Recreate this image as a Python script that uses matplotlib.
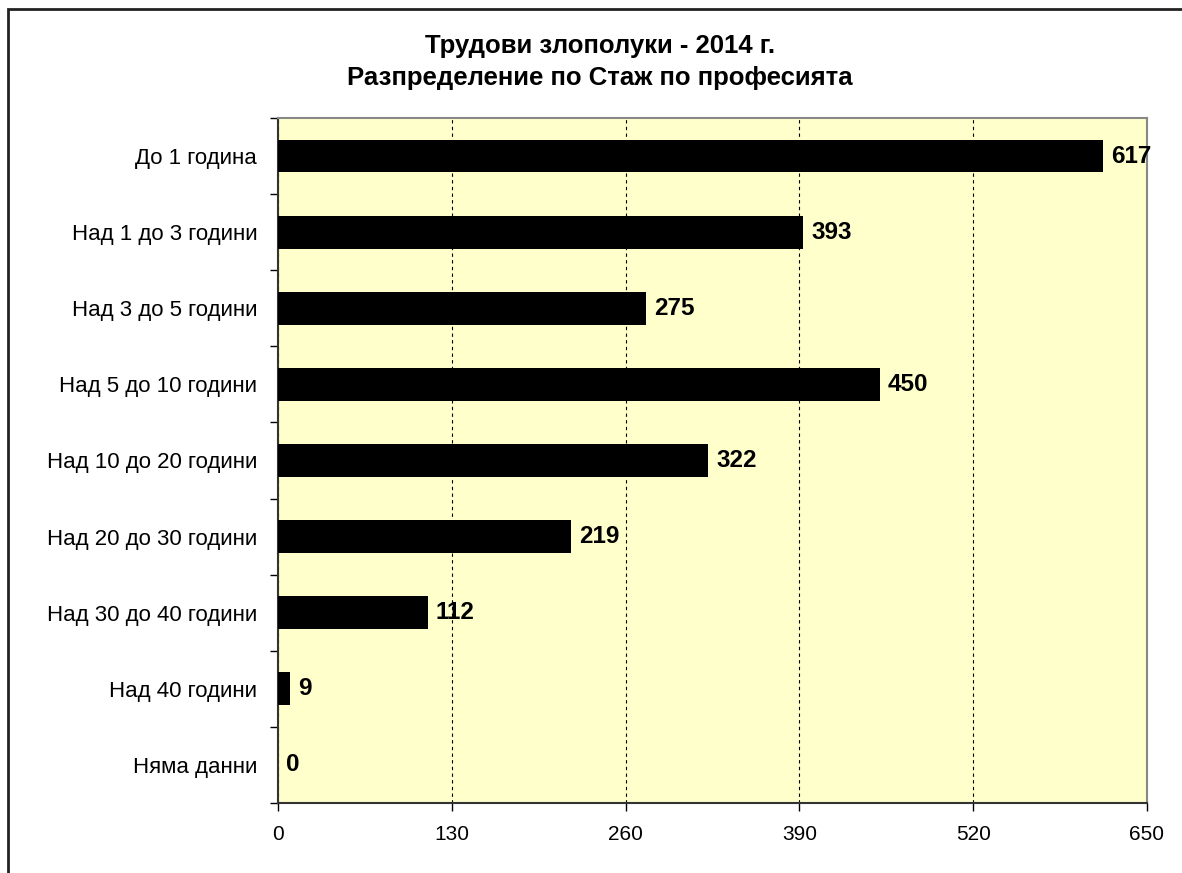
import matplotlib.pyplot as plt
import numpy as np
from matplotlib.patches import Rectangle

plt.rcParams['font.family'] = ['Liberation Sans', 'DejaVu Sans']

categories = ['До 1 година', 'Над 1 до 3 години', 'Над 3 до 5 години',
              'Над 5 до 10 години', 'Над 10 до 20 години', 'Над 20 до 30 години',
              'Над 30 до 40 години', 'Над 40 години', 'Няма данни']
values = [617, 393, 275, 450, 322, 219, 112, 9, 0]
x_ticks = [0, 130, 260, 390, 520, 650]
title = 'Трудови злополуки - 2014 г.\nРазпределение по Стаж по професията'

W, H = 1182, 873
fig = plt.figure(figsize=(W / 100, H / 100), dpi=100)

# outer chart border (runs off the right and bottom edges)
fig.patches.append(Rectangle((8 / W, -0.05), 1.2, 1 - 9 / H + 0.05,
                             transform=fig.transFigure, fill=False,
                             edgecolor='#222222', linewidth=2))

ax = fig.add_axes([278 / W, 1 - 803 / H, (1147 - 278) / W, (803 - 118) / H])
ax.set_facecolor('#FFFFCC')

y = np.arange(len(categories))
ax.barh(y, values, height=0.43, color='black', zorder=3)
for yi, v in zip(y, values):
    ax.text(v + 6, yi, str(v), va='center', ha='left', fontsize=17.5,
            fontweight='bold', zorder=4, clip_on=False)

ax.set_xlim(0, 650)
ax.set_ylim(len(categories) - 0.5, -0.5)
ax.set_xticks(x_ticks)
ax.set_xticklabels([str(t) for t in x_ticks], fontsize=15)
ax.tick_params(axis='x', direction='out', length=6, width=1, pad=10, colors='black')

ax.set_yticks(y)
ax.set_yticklabels(categories, fontsize=16)
ax.tick_params(axis='y', which='major', length=0, pad=15)
ax.set_yticks(np.arange(-0.5, len(categories)), minor=True)
ax.tick_params(axis='y', which='minor', direction='out', length=6, width=1)

ax.xaxis.grid(True, linestyle=(0, (3, 3)), color='black', linewidth=0.8, zorder=1)
ax.set_axisbelow(True)

for side in ['left', 'bottom']:
    ax.spines[side].set_color('#333333')
    ax.spines[side].set_linewidth(1.5)
for side in ['right', 'top']:
    ax.spines[side].set_color('#888888')
    ax.spines[side].set_linewidth(1.5)

fig.text(600 / W, 1 - 62 / H, title, ha='center', va='center', fontsize=18.5,
         fontweight='bold', linespacing=1.45)

fig.savefig('out.png', dpi=100)
